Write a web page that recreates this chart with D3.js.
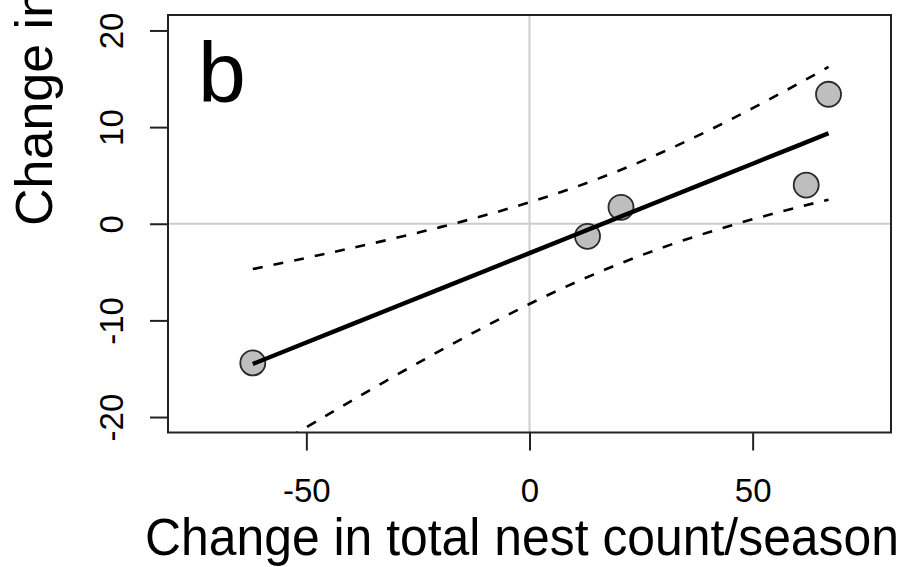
<!DOCTYPE html>
<html>
<head>
<meta charset="utf-8">
<script src="https://cdn.jsdelivr.net/npm/d3@7"></script>
<style>
  body { margin: 0; background: #fff; }
  text { font-family: "Liberation Sans", Arial, sans-serif; fill: #000; }
</style>
</head>
<body>
<div id="chart"></div>
<script>
// observed points
var nestChange = [-62, 13, 20.5, 62, 67];
var femaleChange = [-14.4, -1.3, 1.7, 4.0, 13.4];

// fitted line and 95% band, read along x
var fitX     = [-62, -50, -40, -30, -20, -10, 0, 10, 20, 30, 40, 50, 60, 67];
var fitY     = [-14.51, -12.29, -10.44, -8.59, -6.74, -4.89, -3.04, -1.19, 0.66, 2.51, 4.36, 6.21, 8.06, 9.36];
var bandUp   = [-4.69, -3.53, -2.53, -1.48, -0.35, 0.87, 2.22, 3.75, 5.49, 7.45, 9.62, 11.96, 14.43, 16.23];
var bandLow  = [-24.33, -21.05, -18.35, -15.70, -13.13, -10.65, -8.30, -6.13, -4.17, -2.43, -0.90, 0.46, 1.69, 2.49];

var xTicks = [-50, 0, 50];
var yTicks = [-20, -10, 0, 10, 20];

const W = 902, H = 567;
const pLeft = 168, pRight = 891, pTop = 15, pBottom = 432.5;

var svg = d3.select('#chart').append('svg')
  .attr('width', W)
  .attr('height', H);

var x = d3.scaleLinear().domain([-81, 81]).range([pLeft, pRight]);
var y = d3.scaleLinear().domain([-21.6, 21.6]).range([pBottom, pTop]);

svg.append('clipPath').attr('id', 'plotclip')
  .append('rect')
  .attr('x', pLeft).attr('y', pTop)
  .attr('width', pRight - pLeft).attr('height', pBottom - pTop);

var plot = svg.append('g').attr('clip-path', 'url(#plotclip)');

// reference lines at zero
plot.append('line')
  .attr('x1', pLeft).attr('x2', pRight)
  .attr('y1', y(0)).attr('y2', y(0))
  .style('stroke', '#cccccc').style('stroke-width', 2);
plot.append('line')
  .attr('x1', x(0)).attr('x2', x(0))
  .attr('y1', pTop).attr('y2', pBottom)
  .style('stroke', '#cccccc').style('stroke-width', 2);

// band
var line = d3.line().curve(d3.curveNatural);
[bandUp, bandLow].forEach(function(b) {
  plot.append('path')
    .attr('d', line(fitX.map(function(v, i) { return [x(v), y(b[i])]; })))
    .style('fill', 'none')
    .style('stroke', '#000')
    .style('stroke-width', 2.6)
    .style('stroke-dasharray', '10,11');
});

// points
plot.selectAll('.pt')
  .data(nestChange)
  .enter().append('circle')
    .attr('cx', function(d) { return x(d); })
    .attr('cy', function(d, i) { return y(femaleChange[i]); })
    .attr('r', 12.5)
    .style('fill', '#bebebe')
    .style('stroke', '#2a2a2a')
    .style('stroke-width', 1.8);

// fitted line
plot.append('path')
  .attr('d', d3.line()(fitX.map(function(v, i) { return [x(v), y(fitY[i])]; })))
  .style('fill', 'none')
  .style('stroke', '#000')
  .style('stroke-width', 4.4);

// frame
svg.append('rect')
  .attr('x', pLeft).attr('y', pTop)
  .attr('width', pRight - pLeft).attr('height', pBottom - pTop)
  .style('fill', 'none')
  .style('stroke', '#222')
  .style('stroke-width', 2);

///////////////////////
// Axis
var fmt = function(d) { return String(d); };  // plain hyphen minus, as in R
var xAxis = d3.axisBottom(x).tickValues(xTicks).tickSize(18).tickFormat(fmt);
var yAxis = d3.axisLeft(y).tickValues(yTicks).tickSize(18).tickFormat(fmt);

var gx = svg.append('g')
  .attr('transform', 'translate(0,' + pBottom + ')')
  .call(xAxis);
gx.select('.domain').remove();
gx.selectAll('line').style('stroke', '#222').style('stroke-width', 2);
gx.selectAll('text')
  .style('font-size', '33px')
  .attr('dy', 0)
  .attr('y', 502 - pBottom);

var gy = svg.append('g')
  .attr('transform', 'translate(' + pLeft + ',0)')
  .call(yAxis);
gy.select('.domain').remove();
gy.selectAll('line').style('stroke', '#222').style('stroke-width', 2);
gy.selectAll('text')
  .style('font-size', '33px')
  .attr('text-anchor', 'middle')
  .attr('x', 0).attr('y', 0).attr('dy', 0)
  .attr('transform', 'translate(' + (123 - pLeft) + ',0) rotate(-90)');

// axis labels
svg.append('text')
  .attr('x', 145)
  .attr('y', 555)
  .attr('text-anchor', 'start')
  .attr('textLength', 754)
  .attr('lengthAdjust', 'spacingAndGlyphs')
  .style('font-size', '51px')
  .text('Change in total nest count/season');

svg.append('text')
  .attr('transform', 'translate(52,226) rotate(-90)')
  .attr('text-anchor', 'start')
  .style('font-size', '52px')
  .text('Change in');

// panel letter
svg.append('text')
  .attr('x', 198)
  .attr('y', 102)
  .style('font-size', '86px')
  .text('b');
</script>
</body>
</html>
